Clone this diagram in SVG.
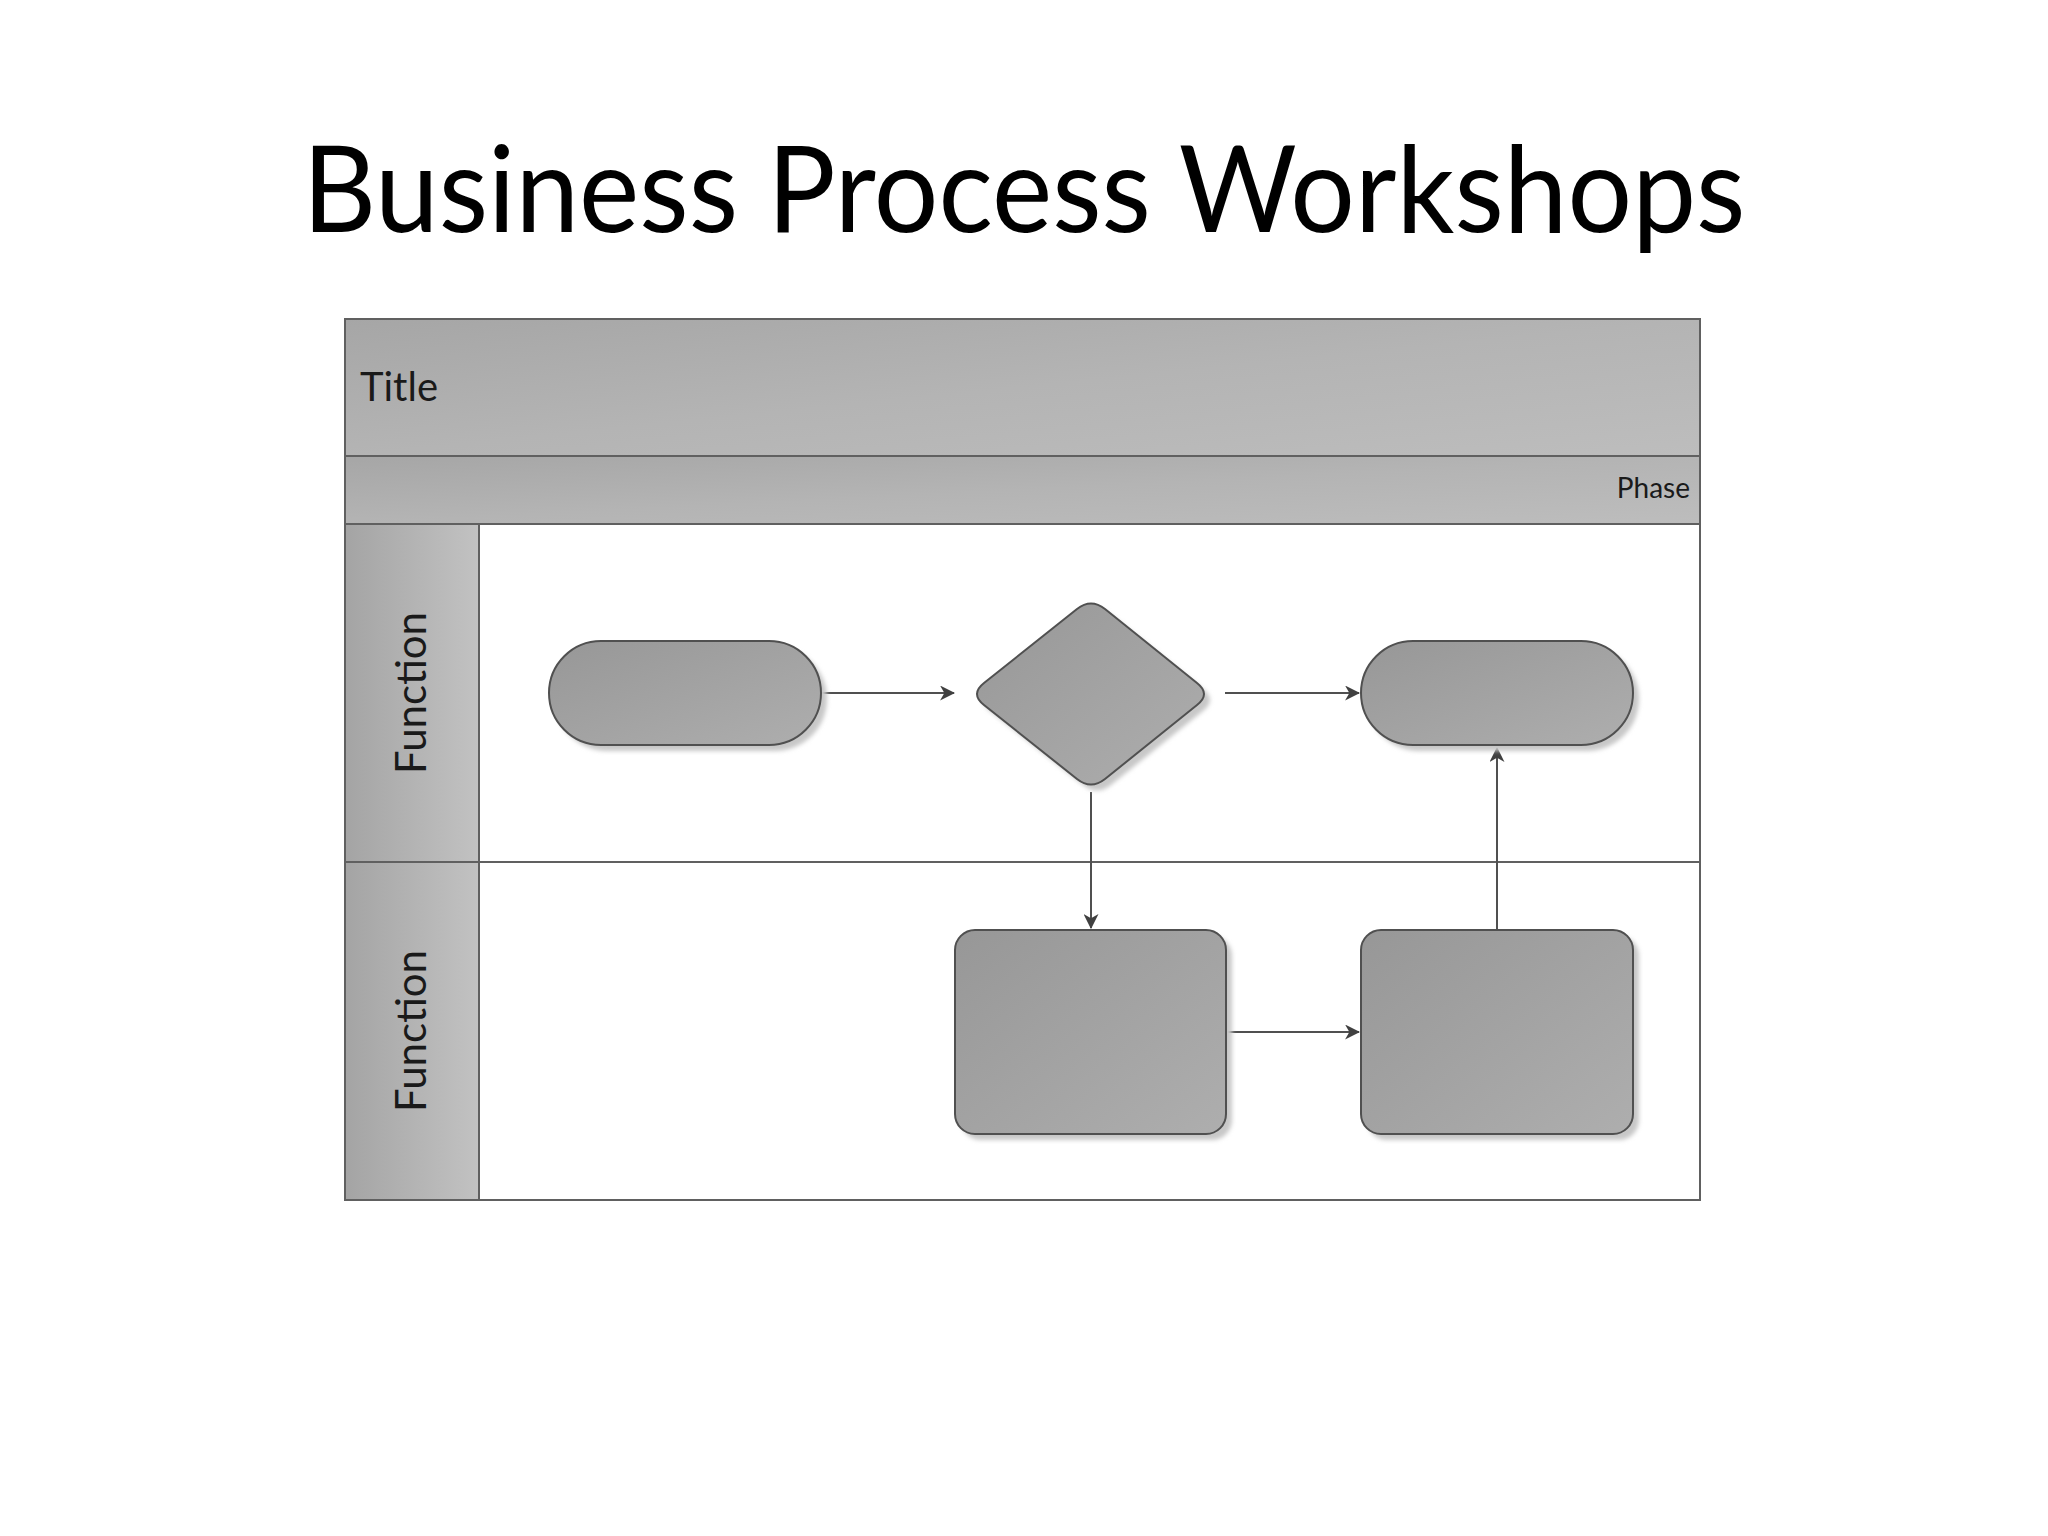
<svg xmlns="http://www.w3.org/2000/svg" width="2048" height="1536" viewBox="0 0 2048 1536">
<style>
.frame{stroke:#606060;stroke-width:2;}
.node{stroke:#505050;stroke-width:2;fill:url(#nodeGrad);}
.shadow{fill:#c8c8c8;filter:url(#blur);}
.conn{stroke:#505050;stroke-width:2;fill:none;marker-end:url(#arrow);}
.lbl{font-family:Lato,"Open Sans","Liberation Sans",sans-serif;fill:#1a1a1a;}
</style>
<defs>
<linearGradient id="bandGrad" x1="0" y1="0" x2="1" y2="1">
<stop offset="0" stop-color="#a6a6a6"/>
<stop offset="0.5" stop-color="#b4b4b4"/>
<stop offset="1" stop-color="#bdbdbd"/>
</linearGradient>
<linearGradient id="colGrad" x1="0" y1="0" x2="1" y2="0">
<stop offset="0" stop-color="#a4a4a4"/>
<stop offset="1" stop-color="#c2c2c2"/>
</linearGradient>
<linearGradient id="nodeGrad" x1="0" y1="0" x2="1" y2="1">
<stop offset="0" stop-color="#979797"/>
<stop offset="1" stop-color="#aeaeae"/>
</linearGradient>
<filter id="blur" x="-10%" y="-10%" width="120%" height="120%">
<feGaussianBlur stdDeviation="2"/>
</filter>
<marker id="arrow" viewBox="0 0 14 14" refX="13" refY="7" markerWidth="15" markerHeight="15" markerUnits="userSpaceOnUse" orient="auto">
<path d="M0,0 L14,7 L0,14 L4,7 Z" fill="#404040"/>
</marker>
</defs>

<text id="heading" class="lbl" x="1024" y="232" font-size="120" text-anchor="middle" textLength="1443" lengthAdjust="spacingAndGlyphs" style="fill:#000">Business Process Workshops</text>

<g id="pool">
<rect x="345" y="319" width="1355" height="881" fill="#ffffff" class="frame"/>
<rect id="title-band" x="345" y="319" width="1355" height="137" fill="url(#bandGrad)" class="frame"/>
<rect id="phase-band" x="345" y="456" width="1355" height="68" fill="url(#bandGrad)" class="frame"/>
<rect id="lane1-head" x="345" y="524" width="134" height="338" fill="url(#colGrad)" class="frame"/>
<rect id="lane2-head" x="345" y="862" width="134" height="338" fill="url(#colGrad)" class="frame"/>
<line x1="479" y1="862" x2="1700" y2="862" class="frame"/>
<text class="lbl" x="360" y="401" font-size="40">Title</text>
<text class="lbl" x="1690" y="498" font-size="28" text-anchor="end">Phase</text>
<text class="lbl" x="0" y="0" font-size="42" text-anchor="middle" textLength="162" lengthAdjust="spacingAndGlyphs" transform="translate(426,693) rotate(-90)">Function</text>
<text class="lbl" x="0" y="0" font-size="42" text-anchor="middle" textLength="162" lengthAdjust="spacingAndGlyphs" transform="translate(426,1031) rotate(-90)">Function</text>
</g>

<g id="connectors">
<line x1="820" y1="693" x2="954" y2="693" class="conn"/>
<line x1="1225" y1="693" x2="1359" y2="693" class="conn"/>
<line x1="1091" y1="792" x2="1091" y2="928" class="conn"/>
<line x1="1227" y1="1032" x2="1359" y2="1032" class="conn"/>
<line x1="1497" y1="930" x2="1497" y2="748" class="conn"/>
</g>

<g id="start">
<rect x="555" y="647" width="272" height="104" rx="52" class="shadow"/>
<rect x="549" y="641" width="272" height="104" rx="52" class="node"/>
</g>
<g id="decision">
<path d="M1083,615 Q1097,604 1111,615 L1203,689 Q1217,700 1203,711 L1111,785 Q1097,796 1083,785 L990,711 Q976,700 990,689 Z" class="shadow"/>
<path d="M1077,609 Q1091,598 1105,609 L1197,683 Q1211,694 1197,705 L1105,779 Q1091,790 1077,779 L984,705 Q970,694 984,683 Z" class="node"/>
</g>
<g id="end">
<rect x="1367" y="647" width="272" height="104" rx="52" class="shadow"/>
<rect x="1361" y="641" width="272" height="104" rx="52" class="node"/>
</g>
<g id="task1">
<rect x="961" y="936" width="271" height="204" rx="20" class="shadow"/>
<rect x="955" y="930" width="271" height="204" rx="20" class="node"/>
</g>
<g id="task2">
<rect x="1367" y="936" width="272" height="204" rx="20" class="shadow"/>
<rect x="1361" y="930" width="272" height="204" rx="20" class="node"/>
</g>
</svg>
